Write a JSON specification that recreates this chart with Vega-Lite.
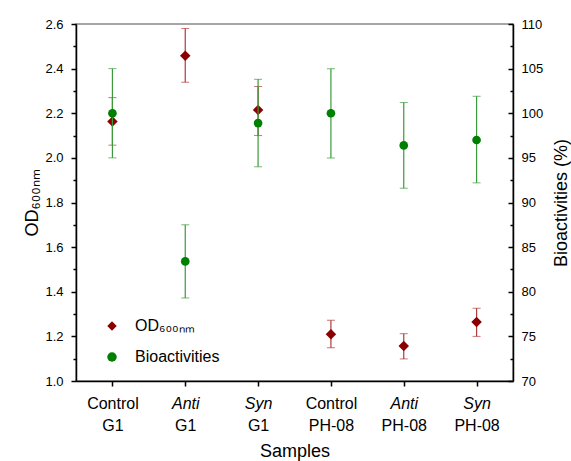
{
  "$schema": "https://vega.github.io/schema/vega-lite/v6.json",
  "width": 437,
  "height": 357,
  "autosize": "none",
  "padding": {"left": 76, "top": 24, "right": 58, "bottom": 80},
  "background": "white",
  "config": {
    "font": "Liberation Sans",
    "view": {"stroke": "#888888", "strokeWidth": 1.5},
    "axis": {"domainColor": "black", "domainWidth": 1.5, "tickColor": "black", "tickWidth": 1.5, "labelColor": "black", "titleColor": "black", "grid": false, "titleFontWeight": "normal", "labelFontSize": 13, "titleFontSize": 18}
  },
  "data": {
    "values": [
      {"sample": "Control|G1", "series": "OD₆₀₀ₙₘ", "value": 2.163, "lo": 2.057, "hi": 2.27},
      {"sample": "Anti|G1", "series": "OD₆₀₀ₙₘ", "value": 2.458, "lo": 2.339, "hi": 2.58},
      {"sample": "Syn|G1", "series": "OD₆₀₀ₙₘ", "value": 2.215, "lo": 2.10, "hi": 2.32},
      {"sample": "Control|PH-08", "series": "OD₆₀₀ₙₘ", "value": 1.209, "lo": 1.149, "hi": 1.272},
      {"sample": "Anti|PH-08", "series": "OD₆₀₀ₙₘ", "value": 1.157, "lo": 1.099, "hi": 1.212},
      {"sample": "Syn|PH-08", "series": "OD₆₀₀ₙₘ", "value": 1.264, "lo": 1.20, "hi": 1.326},
      {"sample": "Control|G1", "series": "Bioactivities", "value": 100, "lo": 95, "hi": 105},
      {"sample": "Anti|G1", "series": "Bioactivities", "value": 83.4, "lo": 79.3, "hi": 87.5},
      {"sample": "Syn|G1", "series": "Bioactivities", "value": 98.9, "lo": 94.0, "hi": 103.8},
      {"sample": "Control|PH-08", "series": "Bioactivities", "value": 100, "lo": 95, "hi": 105},
      {"sample": "Anti|PH-08", "series": "Bioactivities", "value": 96.4, "lo": 91.6, "hi": 101.2},
      {"sample": "Syn|PH-08", "series": "Bioactivities", "value": 97.0, "lo": 92.2, "hi": 101.9}
    ]
  },
  "layer": [
    {
      "transform": [{"filter": "datum.series == 'OD₆₀₀ₙₘ'"}],
      "encoding": {
        "x": {
          "field": "sample", "type": "nominal",
          "scale": {"type": "point", "padding": 0.5, "domain": ["Control|G1", "Anti|G1", "Syn|G1", "Control|PH-08", "Anti|PH-08", "Syn|PH-08"]},
          "axis": {
            "orient": "bottom", "title": null, "labelAngle": 0, "tickSize": 5, "labelPadding": 9,
            "labelFontSize": 16, "labelBaseline": "top",
            "labelExpr": "split(datum.label, '|')[0]",
            "labelFontStyle": {"condition": {"test": "indexof(datum.label, 'Control') < 0", "value": "italic"}, "value": "normal"}
          }
        }
      },
      "layer": [
        {
          "mark": {"type": "errorbar", "ticks": {"size": 8, "color": "#b03a3a"}, "rule": {"color": "#b03a3a", "strokeWidth": 1.2}},
          "encoding": {
            "y": {
              "field": "lo", "type": "quantitative", "scale": {"domain": [1, 2.6], "nice": false, "zero": false},
              "axis": {
                "orient": "left", "title": "OD₆₀₀ₙₘ", "titlePadding": 3,
                "values": [1.0, 1.1, 1.2, 1.3, 1.4, 1.5, 1.6, 1.7, 1.8, 1.9, 2.0, 2.1, 2.2, 2.3, 2.4, 2.5, 2.6],
                "labelExpr": "round(datum.value * 10) % 2 == 0 ? format(datum.value, '.1f') : ''",
                "tickSize": {"condition": {"test": "round(datum.value * 10) % 2 == 0", "value": 5}, "value": 3},
                "labelPadding": 8
              }
            },
            "y2": {"field": "hi"}
          }
        },
        {
          "mark": {"type": "point", "filled": true, "size": 110, "opacity": 1},
          "encoding": {
            "y": {
              "field": "value", "type": "quantitative",
              "scale": {"domain": [1, 2.6], "nice": false, "zero": false},
              "axis": {
                "orient": "left", "title": "OD₆₀₀ₙₘ", "titlePadding": 3,
                "values": [1.0, 1.1, 1.2, 1.3, 1.4, 1.5, 1.6, 1.7, 1.8, 1.9, 2.0, 2.1, 2.2, 2.3, 2.4, 2.5, 2.6],
                "labelExpr": "round(datum.value * 10) % 2 == 0 ? format(datum.value, '.1f') : ''",
                "tickSize": {"condition": {"test": "round(datum.value * 10) % 2 == 0", "value": 5}, "value": 3},
                "labelPadding": 8
              }
            },
            "shape": {"field": "series", "type": "nominal", "scale": {"domain": ["OD₆₀₀ₙₘ", "Bioactivities"], "range": ["diamond", "circle"]}, "legend": {"orient": "none", "legendX": 28, "legendY": 294, "title": null, "labelFontSize": 16, "symbolSize": 90, "rowPadding": 15, "labelOffset": 15, "padding": 0, "symbolStrokeWidth": 0, "labelColor": "black"}},
            "color": {"field": "series", "type": "nominal", "scale": {"domain": ["OD₆₀₀ₙₘ", "Bioactivities"], "range": ["#8b0000", "#008000"]}, "legend": {"orient": "none", "legendX": 28, "legendY": 294, "title": null, "labelFontSize": 16, "symbolSize": 90, "rowPadding": 15, "labelOffset": 15, "padding": 0, "symbolStrokeWidth": 0, "labelColor": "black"}}
          }
        }
      ]
    },
    {
      "transform": [{"filter": "datum.series == 'Bioactivities'"}],
      "encoding": {
        "x": {
          "field": "sample", "type": "nominal",
          "scale": {"type": "point", "padding": 0.5, "domain": ["Control|G1", "Anti|G1", "Syn|G1", "Control|PH-08", "Anti|PH-08", "Syn|PH-08"]},
          "axis": {
            "orient": "bottom", "title": "Samples", "titlePadding": 9, "labelAngle": 0,
            "domain": false, "ticks": false, "tickSize": 0, "labelPadding": 36,
            "labelFontSize": 16, "labelBaseline": "top",
            "labelExpr": "split(datum.label, '|')[1]"
          }
        }
      },
      "layer": [
        {
          "mark": {"type": "errorbar", "ticks": {"size": 8, "color": "#3a9a3a"}, "rule": {"color": "#3a9a3a", "strokeWidth": 1.2}},
          "encoding": {
            "y": {
              "field": "lo", "type": "quantitative", "scale": {"domain": [70, 110], "nice": false, "zero": false},
              "axis": {
                "orient": "right", "title": "Bioactivities (%)", "titleAngle": 270, "titleBaseline": "top", "titlePadding": 10,
                "values": [70, 72.5, 75, 77.5, 80, 82.5, 85, 87.5, 90, 92.5, 95, 97.5, 100, 102.5, 105, 107.5, 110],
                "labelExpr": "datum.value % 5 == 0 ? format(datum.value, 'd') : ''",
                "tickSize": {"condition": {"test": "datum.value % 5 == 0", "value": -5}, "value": -3},
                "labelPadding": 13
              }
            },
            "y2": {"field": "hi"}
          }
        },
        {
          "mark": {"type": "point", "filled": true, "size": 75, "opacity": 1},
          "encoding": {
            "y": {
              "field": "value", "type": "quantitative",
              "scale": {"domain": [70, 110], "nice": false, "zero": false},
              "axis": {
                "orient": "right", "title": "Bioactivities (%)", "titleAngle": 270, "titleBaseline": "top", "titlePadding": 10,
                "values": [70, 72.5, 75, 77.5, 80, 82.5, 85, 87.5, 90, 92.5, 95, 97.5, 100, 102.5, 105, 107.5, 110],
                "labelExpr": "datum.value % 5 == 0 ? format(datum.value, 'd') : ''",
                "tickSize": {"condition": {"test": "datum.value % 5 == 0", "value": -5}, "value": -3},
                "labelPadding": 13
              }
            },
            "shape": {"field": "series", "type": "nominal", "scale": {"domain": ["OD₆₀₀ₙₘ", "Bioactivities"], "range": ["diamond", "circle"]}},
            "color": {"field": "series", "type": "nominal", "scale": {"domain": ["OD₆₀₀ₙₘ", "Bioactivities"], "range": ["#8b0000", "#008000"]}}
          }
        }
      ]
    }
  ],
  "resolve": {"scale": {"y": "independent"}, "axis": {"x": "independent", "y": "independent"}}
}
